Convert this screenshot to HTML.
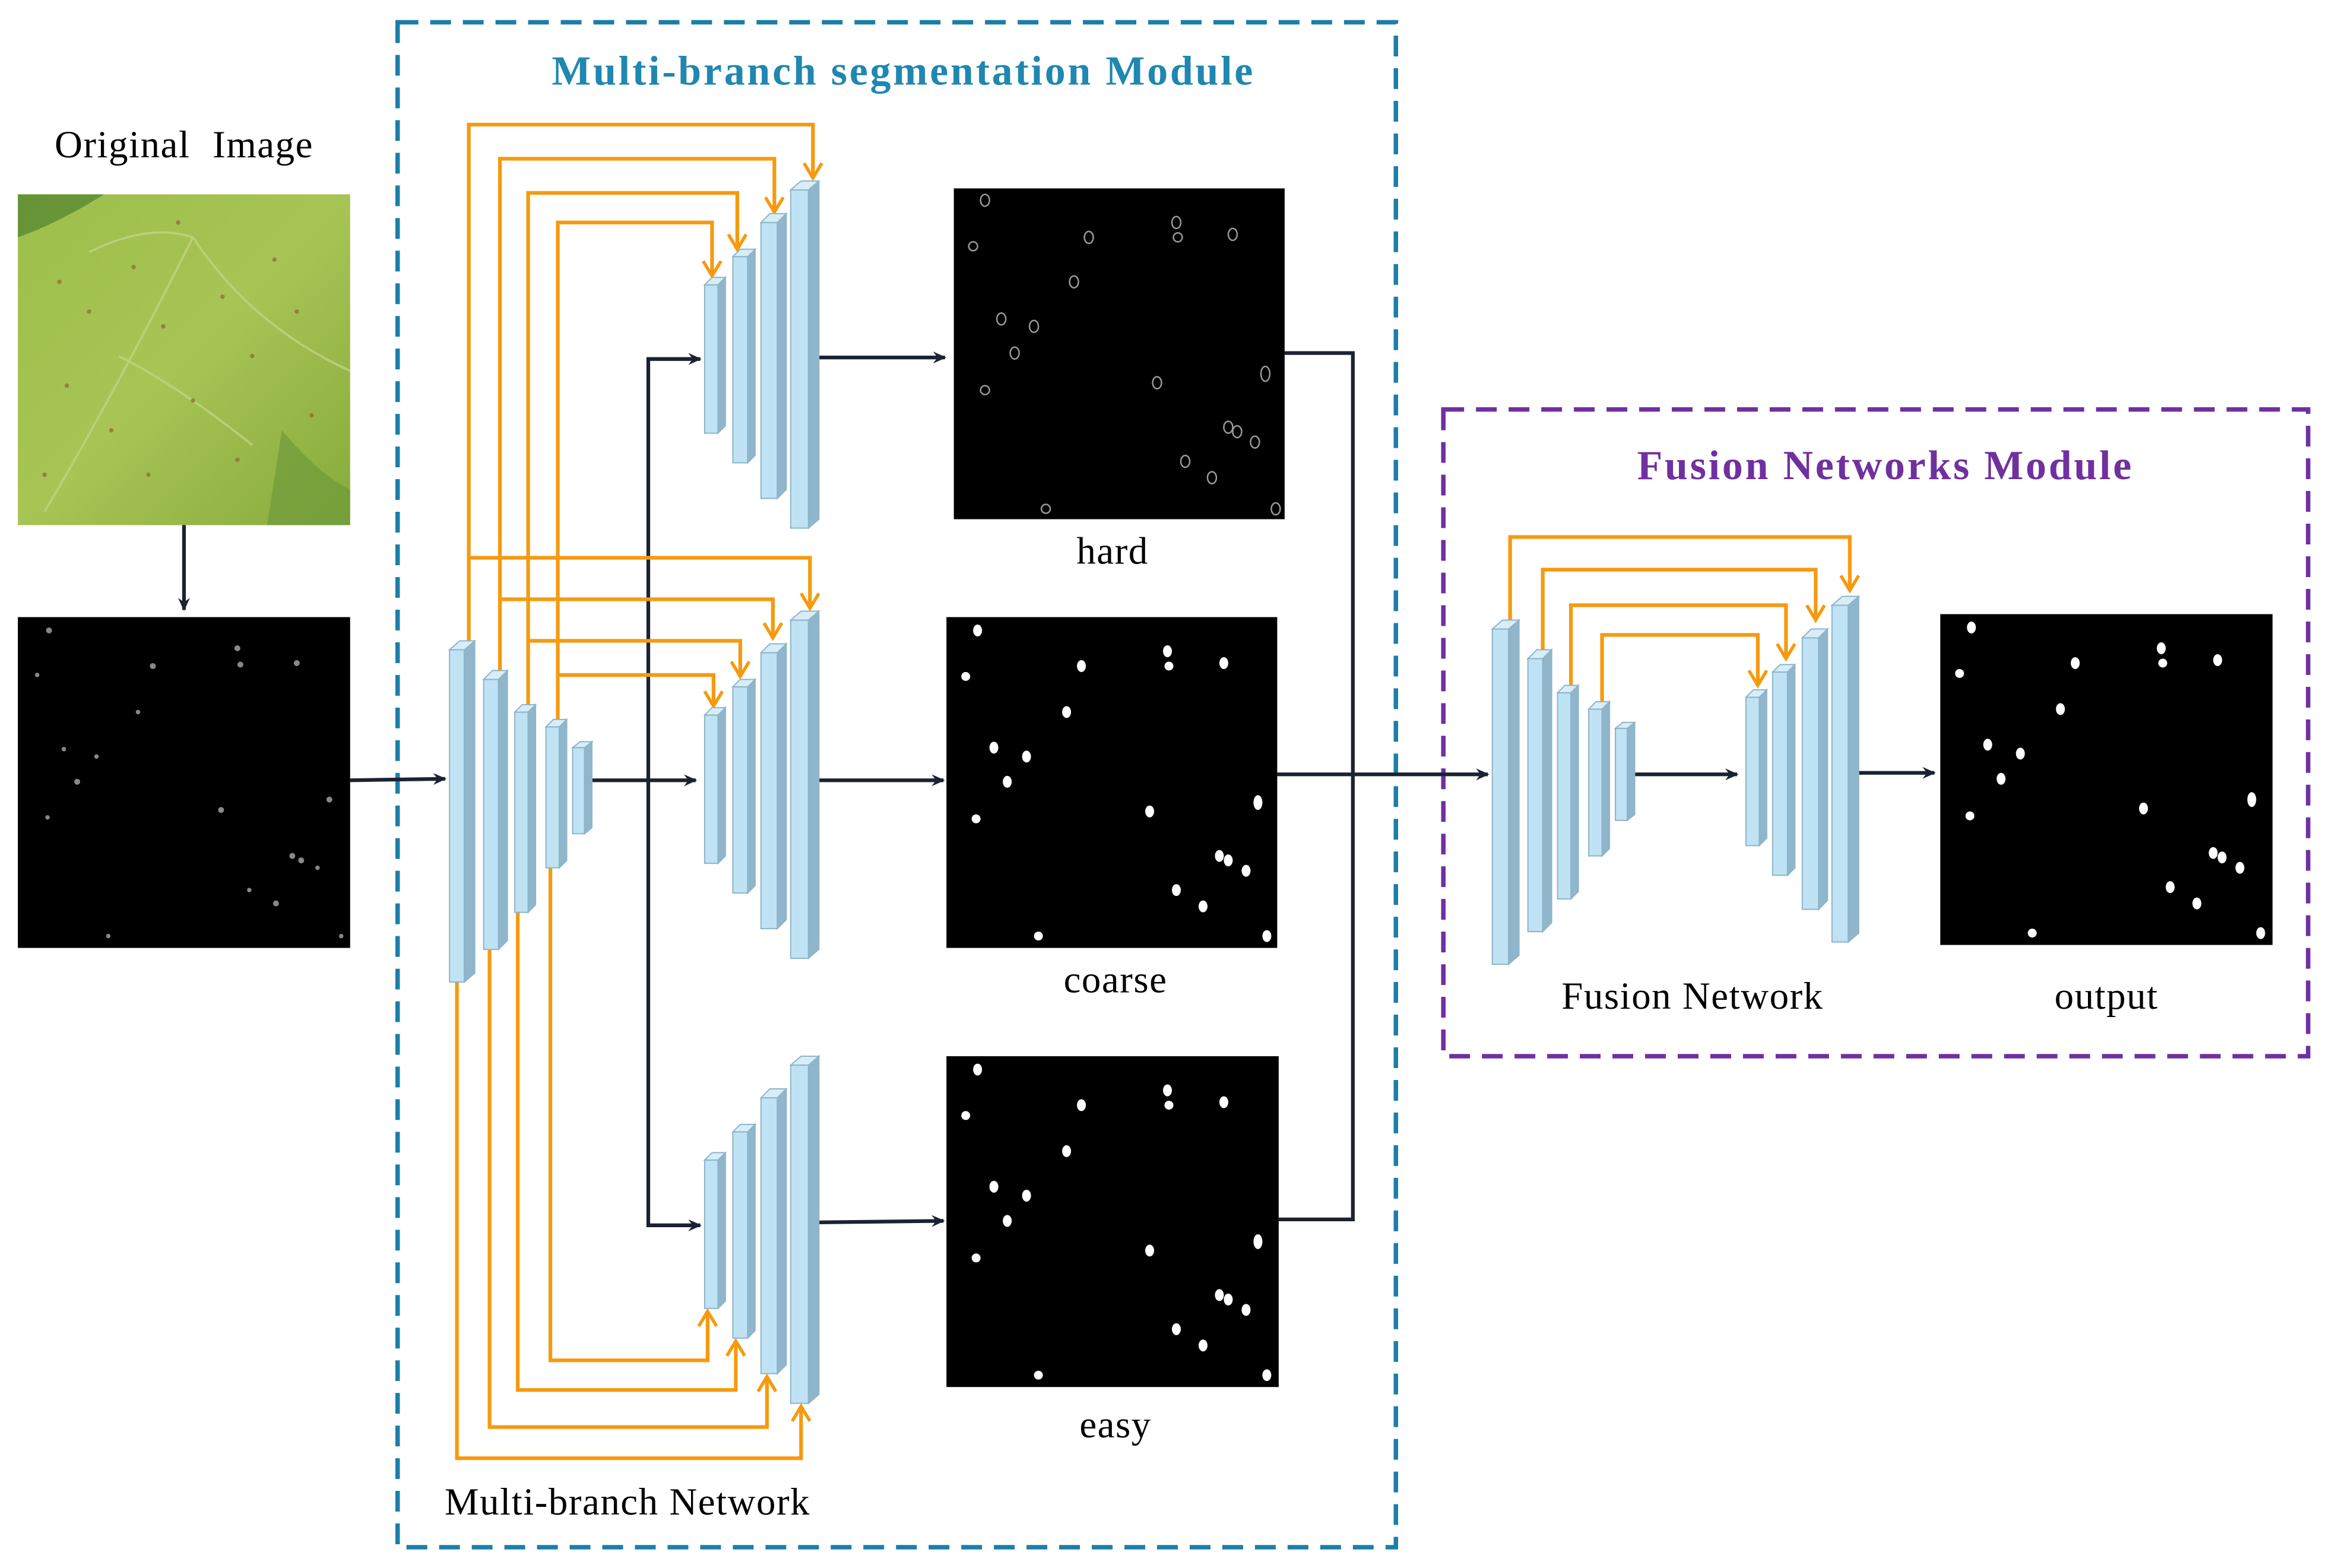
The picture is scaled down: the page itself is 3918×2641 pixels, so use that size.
<!DOCTYPE html>
<html><head><meta charset="utf-8"><style>
html,body{margin:0;padding:0;background:#fff;}
svg{display:block;}
text{font-family:"Liberation Serif",serif;}
.lb{font-size:26px;letter-spacing:0.6px;}
</style></head><body>
<svg width="3918" height="2641" viewBox="0 0 1568 1057" xmlns="http://www.w3.org/2000/svg">
<defs>
<marker id="ab" markerWidth="10" markerHeight="10" refX="8" refY="5" orient="auto" markerUnits="userSpaceOnUse"><path d="M0,1 L9,5 L0,9 L3,5 Z" fill="#1a2233"/></marker>
<marker id="ao" markerWidth="14" markerHeight="14" refX="11" refY="7" orient="auto" markerUnits="userSpaceOnUse"><path d="M1,1 L11,7 L1,13" fill="none" stroke="#f59a10" stroke-width="2.2"/></marker>
<linearGradient id="leaf" x1="0" y1="0" x2="1" y2="1"><stop offset="0" stop-color="#9cbf4a"/><stop offset="0.5" stop-color="#a8c455"/><stop offset="1" stop-color="#86ab3c"/></linearGradient>
</defs>

<rect x="268" y="15" width="673" height="1028" fill="none" stroke="#1b7ea9" stroke-width="3" stroke-dasharray="14,8"/>
<rect x="973" y="276" width="583" height="436" fill="none" stroke="#7030a0" stroke-width="3" stroke-dasharray="14,8"/>
<text x="609" y="57" text-anchor="middle" font-size="28" letter-spacing="1.5" font-weight="bold" fill="#1f87b0">Multi-branch segmentation Module</text>
<text x="1271" y="323" text-anchor="middle" font-size="28" letter-spacing="1.5" font-weight="bold" fill="#7030a0">Fusion Networks Module</text>
<text x="124" y="106" text-anchor="middle" class="lb" word-spacing="8">Original Image</text>
<text x="750" y="380" text-anchor="middle" class="lb">hard</text>
<text x="752" y="669" text-anchor="middle" class="lb">coarse</text>
<text x="752" y="969" text-anchor="middle" class="lb">easy</text>
<text x="423" y="1021" text-anchor="middle" class="lb">Multi-branch Network</text>
<text x="1141" y="680" text-anchor="middle" class="lb">Fusion Network</text>
<text x="1420" y="680" text-anchor="middle" class="lb">output</text>

<!-- Leaf image -->
<rect x="12" y="131" width="224" height="223" fill="url(#leaf)"/>
<path d="M12,131 L70,131 Q40,150 12,160 Z" fill="#5a8a32" opacity="0.8"/>
<path d="M190,290 Q215,320 236,330 L236,354 L180,354 Z" fill="#6f9a3a" opacity="0.7"/>
<path d="M30,345 Q80,260 130,160 M130,160 Q170,220 236,250 M130,160 Q100,150 60,170 M80,240 Q120,260 170,300" stroke="#c2d37f" stroke-width="1.5" fill="none" opacity="0.8"/>
<g fill="#8a6a30" opacity="0.7">
<circle cx="40" cy="190" r="1.5"/><circle cx="60" cy="210" r="1.5"/><circle cx="90" cy="180" r="1.5"/><circle cx="110" cy="220" r="1.5"/><circle cx="150" cy="200" r="1.5"/><circle cx="170" cy="240" r="1.5"/><circle cx="200" cy="210" r="1.5"/><circle cx="45" cy="260" r="1.5"/><circle cx="75" cy="290" r="1.5"/><circle cx="130" cy="270" r="1.5"/><circle cx="160" cy="310" r="1.5"/><circle cx="210" cy="280" r="1.5"/><circle cx="100" cy="320" r="1.5"/><circle cx="30" cy="320" r="1.5"/><circle cx="185" cy="175" r="1.5"/><circle cx="120" cy="150" r="1.5"/>
</g>

<g fill="#000">
<rect x="12" y="416" width="224" height="223"/>
<rect x="643" y="127" width="223" height="223"/>
<rect x="638" y="416" width="223" height="223"/>
<rect x="638" y="712" width="224" height="223"/>
<rect x="1308" y="414" width="224" height="223"/>
</g>
<g fill="#888">
<circle cx="33" cy="425" r="2"/><circle cx="25" cy="455" r="1.5"/><circle cx="103" cy="449" r="2"/><circle cx="160" cy="437" r="2"/><circle cx="162" cy="448" r="2"/><circle cx="200" cy="447" r="2"/><circle cx="93" cy="480" r="1.5"/><circle cx="43" cy="505" r="1.5"/><circle cx="65" cy="510" r="1.5"/><circle cx="52" cy="527" r="2"/><circle cx="32" cy="551" r="1.5"/><circle cx="149" cy="546" r="2"/><circle cx="222" cy="539" r="2"/><circle cx="197" cy="577" r="2"/><circle cx="203" cy="580" r="2"/><circle cx="214" cy="585" r="1.5"/><circle cx="168" cy="600" r="1.5"/><circle cx="186" cy="609" r="2"/><circle cx="73" cy="631" r="1.5"/><circle cx="230" cy="631" r="1.5"/>
</g>
<g fill="none" stroke="#999" stroke-width="1">
<ellipse cx="664" cy="135" rx="3" ry="4"/><ellipse cx="656" cy="166" rx="3" ry="3"/><ellipse cx="734" cy="160" rx="3" ry="4"/><ellipse cx="793" cy="150" rx="3" ry="4"/><ellipse cx="794" cy="160" rx="3" ry="3"/><ellipse cx="831" cy="158" rx="3" ry="4"/><ellipse cx="724" cy="190" rx="3" ry="4"/><ellipse cx="675" cy="215" rx="3" ry="4"/><ellipse cx="697" cy="220" rx="3" ry="4"/><ellipse cx="684" cy="238" rx="3" ry="4"/><ellipse cx="664" cy="263" rx="3" ry="3"/><ellipse cx="780" cy="258" rx="3" ry="4"/><ellipse cx="853" cy="252" rx="3" ry="5"/><ellipse cx="828" cy="288" rx="3" ry="4"/><ellipse cx="834" cy="291" rx="3" ry="4"/><ellipse cx="846" cy="298" rx="3" ry="4"/><ellipse cx="799" cy="311" rx="3" ry="4"/><ellipse cx="817" cy="322" rx="3" ry="4"/><ellipse cx="705" cy="343" rx="3" ry="3"/><ellipse cx="860" cy="343" rx="3" ry="4"/>
</g>
<g fill="#fff" id="dots">
<ellipse cx="659" cy="425" rx="3" ry="4"/><ellipse cx="651" cy="456" rx="3" ry="3"/><ellipse cx="729" cy="449" rx="3" ry="4"/><ellipse cx="787" cy="439" rx="3" ry="4"/><ellipse cx="788" cy="449" rx="3" ry="3"/><ellipse cx="825" cy="447" rx="3" ry="4"/><ellipse cx="719" cy="480" rx="3" ry="4"/><ellipse cx="670" cy="504" rx="3" ry="4"/><ellipse cx="692" cy="510" rx="3" ry="4"/><ellipse cx="679" cy="527" rx="3" ry="4"/><ellipse cx="658" cy="552" rx="3" ry="3"/><ellipse cx="775" cy="547" rx="3" ry="4"/><ellipse cx="848" cy="541" rx="3" ry="5"/><ellipse cx="822" cy="577" rx="3" ry="4"/><ellipse cx="828" cy="580" rx="3" ry="4"/><ellipse cx="840" cy="587" rx="3" ry="4"/><ellipse cx="793" cy="600" rx="3" ry="4"/><ellipse cx="811" cy="611" rx="3" ry="4"/><ellipse cx="700" cy="631" rx="3" ry="3"/><ellipse cx="854" cy="631" rx="3" ry="4"/>
</g>
<use href="#dots" transform="translate(0,296)"/>
<use href="#dots" transform="translate(670,-2)"/>

<g stroke="#1a2233" stroke-width="2.5" fill="none">
<line x1="124" y1="354" x2="124" y2="411" marker-end="url(#ab)"/>
<line x1="236" y1="526" x2="300" y2="525" marker-end="url(#ab)"/>
<line x1="397" y1="526" x2="469" y2="526" marker-end="url(#ab)"/>
<polyline points="472,242 437,242 437,826 472,826"/>
<line x1="437" y1="242" x2="472" y2="242" marker-end="url(#ab)"/>
<line x1="437" y1="826" x2="472" y2="826" marker-end="url(#ab)"/>
<line x1="551" y1="241" x2="637" y2="241" marker-end="url(#ab)"/>
<line x1="551" y1="526" x2="636" y2="526" marker-end="url(#ab)"/>
<line x1="551" y1="824" x2="636" y2="823" marker-end="url(#ab)"/>
<polyline points="866,238 912,238 912,822 862,822"/>
<line x1="861" y1="522" x2="1003" y2="522" marker-end="url(#ab)"/>
<line x1="1102" y1="522" x2="1171" y2="522" marker-end="url(#ab)"/>
<line x1="1252" y1="521" x2="1304" y2="521" marker-end="url(#ab)"/>
</g>

<g stroke="#f59a10" stroke-width="2.5" fill="none">
<polyline points="316,432 316,84 548,84 548,120" marker-end="url(#ao)"/>
<polyline points="337,452 337,107 522,107 522,143" marker-end="url(#ao)"/>
<polyline points="356,475 356,130 497,130 497,168" marker-end="url(#ao)"/>
<polyline points="376,485 376,150 480,150 480,186" marker-end="url(#ao)"/>
<polyline points="316,376 546,376 546,410" marker-end="url(#ao)"/>
<polyline points="337,404 521,404 521,430" marker-end="url(#ao)"/>
<polyline points="356,432 499,432 499,456" marker-end="url(#ao)"/>
<polyline points="376,455 481,455 481,476" marker-end="url(#ao)"/>
<polyline points="308,662 308,983 540,983 540,948" marker-end="url(#ao)"/>
<polyline points="330,640 330,962 517,962 517,928" marker-end="url(#ao)"/>
<polyline points="349,615 349,937 496,937 496,904" marker-end="url(#ao)"/>
<polyline points="371,585 371,917 477,917 477,884" marker-end="url(#ao)"/>
<polyline points="1018,418 1018,362 1247,362 1247,398" marker-end="url(#ao)"/>
<polyline points="1040,438 1040,384 1224,384 1224,418" marker-end="url(#ao)"/>
<polyline points="1059,462 1059,408 1204,408 1204,444" marker-end="url(#ao)"/>
<polyline points="1080,473 1080,428 1185,428 1185,462" marker-end="url(#ao)"/>
</g>

<g stroke="#8fb4c8" stroke-width="0.8">
<path d="M303,438 h10 v224 h-10 Z" fill="#bfe3f5"/><path d="M313,438 l7,-6 v224 l-7,6 Z" fill="#8fb6cb"/><path d="M303,438 l7,-6 h10 l-7,6 Z" fill="#d7eef9"/>
<path d="M326,458 h10 v182 h-10 Z" fill="#bfe3f5"/><path d="M336,458 l6,-6 v182 l-6,6 Z" fill="#8fb6cb"/><path d="M326,458 l6,-6 h10 l-6,6 Z" fill="#d7eef9"/>
<path d="M347,480 h9 v135 h-9 Z" fill="#bfe3f5"/><path d="M356,480 l5,-5 v135 l-5,5 Z" fill="#8fb6cb"/><path d="M347,480 l5,-5 h9 l-5,5 Z" fill="#d7eef9"/>
<path d="M368,490 h9 v95 h-9 Z" fill="#bfe3f5"/><path d="M377,490 l5,-5 v95 l-5,5 Z" fill="#8fb6cb"/><path d="M368,490 l5,-5 h9 l-5,5 Z" fill="#d7eef9"/>
<path d="M386,504 h8 v58 h-8 Z" fill="#bfe3f5"/><path d="M394,504 l5,-4 v58 l-5,4 Z" fill="#8fb6cb"/><path d="M386,504 l5,-4 h8 l-5,4 Z" fill="#d7eef9"/>
</g>
<g id="dec" stroke="#8fb4c8" stroke-width="0.8">
<path d="M475,192 h9 v100 h-9 Z" fill="#bfe3f5"/><path d="M484,192 l5,-5 v100 l-5,5 Z" fill="#8fb6cb"/><path d="M475,192 l5,-5 h9 l-5,5 Z" fill="#d7eef9"/>
<path d="M494,173 h10 v139 h-10 Z" fill="#bfe3f5"/><path d="M504,173 l5,-5 v139 l-5,5 Z" fill="#8fb6cb"/><path d="M494,173 l5,-5 h10 l-5,5 Z" fill="#d7eef9"/>
<path d="M513,150 h11 v186 h-11 Z" fill="#bfe3f5"/><path d="M524,150 l6,-6 v186 l-6,6 Z" fill="#8fb6cb"/><path d="M513,150 l6,-6 h11 l-6,6 Z" fill="#d7eef9"/>
<path d="M533,128 h12 v228 h-12 Z" fill="#bfe3f5"/><path d="M545,128 l7,-6 v228 l-7,6 Z" fill="#8fb6cb"/><path d="M533,128 l7,-6 h12 l-7,6 Z" fill="#d7eef9"/>
</g>
<use href="#dec" transform="translate(0,290)"/>
<use href="#dec" transform="translate(0,590)"/>
<g stroke="#8fb4c8" stroke-width="0.8">
<path d="M1006,424 h11 v226 h-11 Z" fill="#bfe3f5"/><path d="M1017,424 l7,-6 v226 l-7,6 Z" fill="#8fb6cb"/><path d="M1006,424 l7,-6 h11 l-7,6 Z" fill="#d7eef9"/>
<path d="M1030,444 h10 v184 h-10 Z" fill="#bfe3f5"/><path d="M1040,444 l6,-6 v184 l-6,6 Z" fill="#8fb6cb"/><path d="M1030,444 l6,-6 h10 l-6,6 Z" fill="#d7eef9"/>
<path d="M1050,467 h9 v139 h-9 Z" fill="#bfe3f5"/><path d="M1059,467 l5,-5 v139 l-5,5 Z" fill="#8fb6cb"/><path d="M1050,467 l5,-5 h9 l-5,5 Z" fill="#d7eef9"/>
<path d="M1071,478 h9 v99 h-9 Z" fill="#bfe3f5"/><path d="M1080,478 l5,-5 v99 l-5,5 Z" fill="#8fb6cb"/><path d="M1071,478 l5,-5 h9 l-5,5 Z" fill="#d7eef9"/>
<path d="M1089,491 h8 v62 h-8 Z" fill="#bfe3f5"/><path d="M1097,491 l5,-4 v62 l-5,4 Z" fill="#8fb6cb"/><path d="M1089,491 l5,-4 h8 l-5,4 Z" fill="#d7eef9"/>
<path d="M1177,470 h9 v100 h-9 Z" fill="#bfe3f5"/><path d="M1186,470 l5,-5 v100 l-5,5 Z" fill="#8fb6cb"/><path d="M1177,470 l5,-5 h9 l-5,5 Z" fill="#d7eef9"/>
<path d="M1195,453 h10 v137 h-10 Z" fill="#bfe3f5"/><path d="M1205,453 l5,-5 v137 l-5,5 Z" fill="#8fb6cb"/><path d="M1195,453 l5,-5 h10 l-5,5 Z" fill="#d7eef9"/>
<path d="M1215,430 h11 v183 h-11 Z" fill="#bfe3f5"/><path d="M1226,430 l6,-6 v183 l-6,6 Z" fill="#8fb6cb"/><path d="M1215,430 l6,-6 h11 l-6,6 Z" fill="#d7eef9"/>
<path d="M1235,408 h11 v227 h-11 Z" fill="#bfe3f5"/><path d="M1246,408 l7,-6 v227 l-7,6 Z" fill="#8fb6cb"/><path d="M1235,408 l7,-6 h11 l-7,6 Z" fill="#d7eef9"/>
</g>
</svg>
</body></html>
